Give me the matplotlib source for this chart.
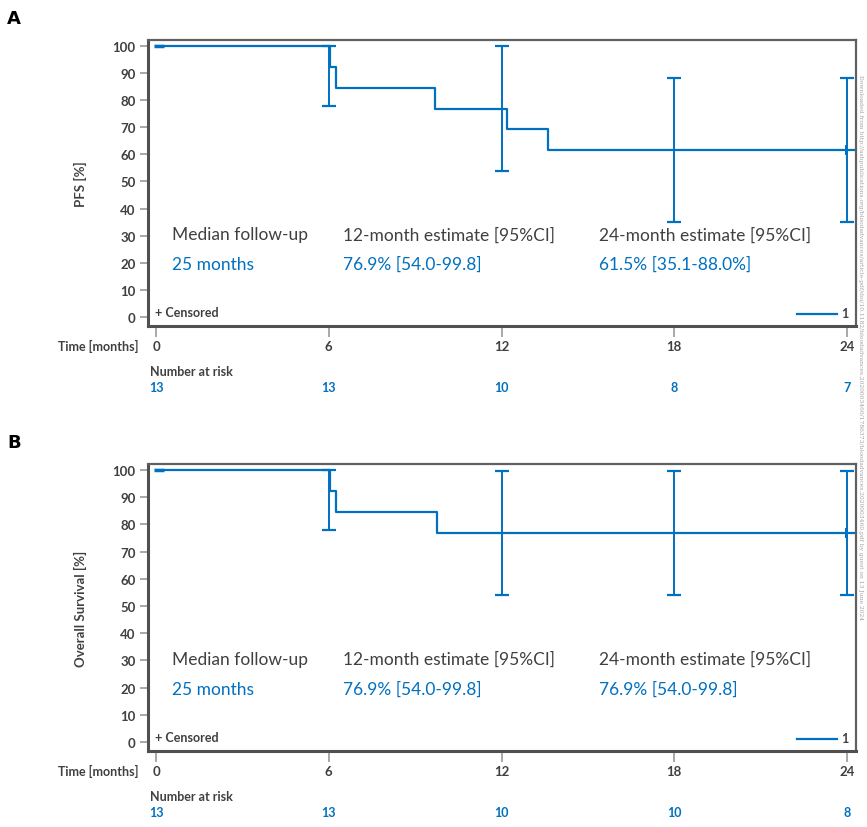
import numpy as np
import matplotlib
matplotlib.use('Agg')
import matplotlib.pyplot as plt

plt.rcParams['font.family'] = ['Lato', 'DejaVu Sans']

BLUE = '#0070C0'
DARK = '#404040'

# data
months = [0, 6, 12, 18, 24]

pfs_t = [0, 6.05, 6.25, 9.7, 12.2, 13.6, 24.3]
pfs_s = [100, 92.3, 84.6, 76.9, 69.2, 61.5, 61.5]
pfs_ci_t = [6, 12, 18, 24]
pfs_ci_lo = [77.8, 54.0, 35.1, 35.1]
pfs_ci_hi = [100, 99.8, 88.0, 88.0]
pfs_risk = [13, 13, 10, 8, 7]
pfs_texts = ['25 months', '76.9% [54.0-99.8]', '61.5% [35.1-88.0%]']

os_t = [0, 6.05, 6.25, 9.75, 24.3]
os_s = [100, 92.3, 84.6, 76.9, 76.9]
os_ci_t = [6, 12, 18, 24]
os_ci_lo = [77.8, 54.0, 54.0, 54.0]
os_ci_hi = [100, 99.8, 99.8, 99.8]
os_risk = [13, 13, 10, 10, 8]
os_texts = ['25 months', '76.9% [54.0-99.8]', '76.9% [54.0-99.8]']

headers = ['Median follow-up', '12-month estimate [95%CI]', '24-month estimate [95%CI]']
header_x = [0.55, 6.5, 15.4]

fig = plt.figure(figsize=(8.67, 8.28), dpi=100)


def panel(rect, letter, ylabel, t, s, ci_t, lo, hi, risk, texts):
    ax = fig.add_axes(rect)
    ax.step(t, s, where='post', color=BLUE, lw=1.6)
    lo = np.array(lo)
    hi = np.array(hi)
    mid = (lo + hi) / 2
    ax.errorbar(ci_t, mid, yerr=[mid - lo, hi - mid], fmt='none',
                ecolor=BLUE, elinewidth=1.4, capsize=5, capthick=1.6)
    # censored marks
    ax.plot([23.95], [s[-1]], marker='+', color=BLUE, ms=7, mew=1.4)
    ax.plot([0.1], [100], marker='_', color=BLUE, ms=7, mew=2.5)

    ax.set_xlim(-0.28, 24.31)
    ax.set_ylim(-3.3, 102.2)
    ax.set_yticks(range(0, 101, 10))
    ax.set_xticks(months)
    ax.tick_params(axis='y', length=6, width=1.2, color='#999999',
                   labelsize=9.5, labelcolor=DARK, pad=3)
    ax.tick_params(axis='x', length=8, width=1.2, color='#999999',
                   labelsize=9.5, labelcolor=DARK, pad=2)
    for lab in ax.get_xticklabels() + ax.get_yticklabels():
        lab.set_fontweight('bold')
    for side in ['left', 'bottom']:
        ax.spines[side].set_linewidth(2.2)
        ax.spines[side].set_color('#505050')
    for side in ['top', 'right']:
        ax.spines[side].set_linewidth(1.6)
        ax.spines[side].set_color('#606060')
    ax.set_ylabel(ylabel, fontsize=9.5, color=DARK, fontweight='bold', labelpad=18)

    for hx, h, v in zip(header_x, headers, texts):
        ax.text(hx, 30.5, h, fontsize=12.5, color=DARK, va='center')
        ax.text(hx, 19.5, v, fontsize=12.5, color=BLUE, va='center')

    ax.text(-0.05, 1.8, '+ Censored', fontsize=9, color=DARK,
            fontweight='bold', va='center')
    ax.plot([22.25, 23.65], [1.0, 1.0], color=BLUE, lw=1.6)
    ax.text(23.8, 1.6, '1', fontsize=9, color=DARK, fontweight='bold',
            va='center', ha='left')

    tr = ax.get_xaxis_transform()
    ax.text(-0.62, -0.068, 'Time [months]', transform=tr, ha='right', va='center',
            fontsize=9, color=DARK, fontweight='bold')
    ax.text(-0.2, -0.158, 'Number at risk', transform=tr, ha='left', va='center',
            fontsize=9, color=DARK, fontweight='bold')
    for m, r in zip(months, risk):
        ax.text(m, -0.213, str(r), transform=tr, ha='center', va='center',
                fontsize=9, color=BLUE, fontweight='bold')

    fig.text(0.008, rect[1] + rect[3] + 0.027, letter, fontsize=13,
             fontweight='bold', color='black', va='center', family='DejaVu Sans')
    return ax


panel([0.1707, 0.6051, 0.8166, 0.3454], 'A', 'PFS [%]',
      pfs_t, pfs_s, pfs_ci_t, pfs_ci_lo, pfs_ci_hi, pfs_risk, pfs_texts)
panel([0.1707, 0.0918, 0.8166, 0.3466], 'B', 'Overall Survival [%]',
      os_t, os_s, os_ci_t, os_ci_lo, os_ci_hi, os_risk, os_texts)

# faint download watermark along the right edge
fig.text(0.993, 0.58,
         'Downloaded from http://ashpublications.org/bloodadvances/article-pdf/doi/10.1182/'
         'bloodadvances.2020003460/1786373/bloodadvances.2020003460.pdf by guest on 13 June 2024',
         rotation=-90, fontsize=4.3, color='#a0a0a0', ha='center', va='center',
         family='DejaVu Serif')

fig.savefig('out.png', dpi=100)
